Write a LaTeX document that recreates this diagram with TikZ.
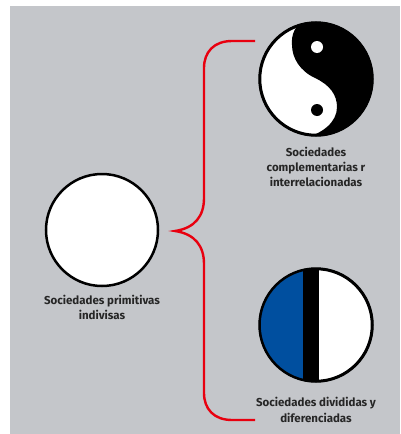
\documentclass[tikz,border=0pt]{standalone}
\usepackage{fontspec}
\setmainfont{Fira Sans}
\definecolor{panelgray}{HTML}{C4C6CA}
\definecolor{splitblue}{HTML}{004F9F}
\definecolor{bracketred}{HTML}{E8000F}
\tikzset{
    societycircle/.style={circle,draw=black,line width=2.5pt,fill=white,inner sep=0pt,minimum size=112pt},
    societylabel/.style={align=center,inner sep=0pt,text=black!85,font=\fontsize{11.5}{15.3}\selectfont\bfseries},
    bracketline/.style={draw=bracketred,line width=2.4pt,miter limit=20}
}
\begin{document}
\begin{tikzpicture}[x=1pt,y=-1pt]
    \useasboundingbox (0,0) rectangle (400,434);
    \fill [panelgray] (10,6) rectangle (400,434);
    \node [societycircle] (primitive) at (102,230) {};
    \node [societycircle] (yinyang) at (316,79) {};
    \node [societycircle] (divided) at (316,325) {};
    \begin{scope}
        \clip (yinyang) circle (56);
        \fill (305,20) .. controls (295,25) and (291,35) .. (292,45) .. controls (292,58) and (300,71) .. (315,78) .. controls (330,85) and (337,95) .. (337,107) .. controls (337,122) and (323,133) .. (305,138) -- (380,140) -- (380,18) -- cycle;
    \end{scope}
    \begin{scope}
        \clip (divided) circle (56);
        \fill [splitblue] (255,265) rectangle (303,385);
        \fill (303,265) rectangle (319,385);
    \end{scope}
    \draw [line width=2.5pt] (yinyang) circle (56.5);
    \draw [line width=2.5pt] (divided) circle (56.5);
    \fill [white] (317,47) circle (6);
    \fill (317,110) circle (6);
    \node [societylabel] (primitivelabel) at (102,307.5) {Sociedades primitivas\\indivisas};
    \node [societylabel] (yinyanglabel) at (316,167) {Sociedades\\complementarias r\\interrelacionadas};
    \node [societylabel] (dividedlabel) at (316,410) {Sociedades divididas y\\diferenciadas};
    \coordinate (topend) at (255,41);
    \coordinate (tip) at (175,231);
    \coordinate (botend) at (255,420);
    \draw [bracketline] (topend) -- (232,41) .. controls (214,41) and (204,52) .. (204,68) -- (204,198) .. controls (204,216) and (195,228) .. (tip) .. controls (195,234) and (204,246) .. (204,264) -- (204,393) .. controls (204,409) and (214,420) .. (232,420) -- (botend);
\end{tikzpicture}
\end{document}
